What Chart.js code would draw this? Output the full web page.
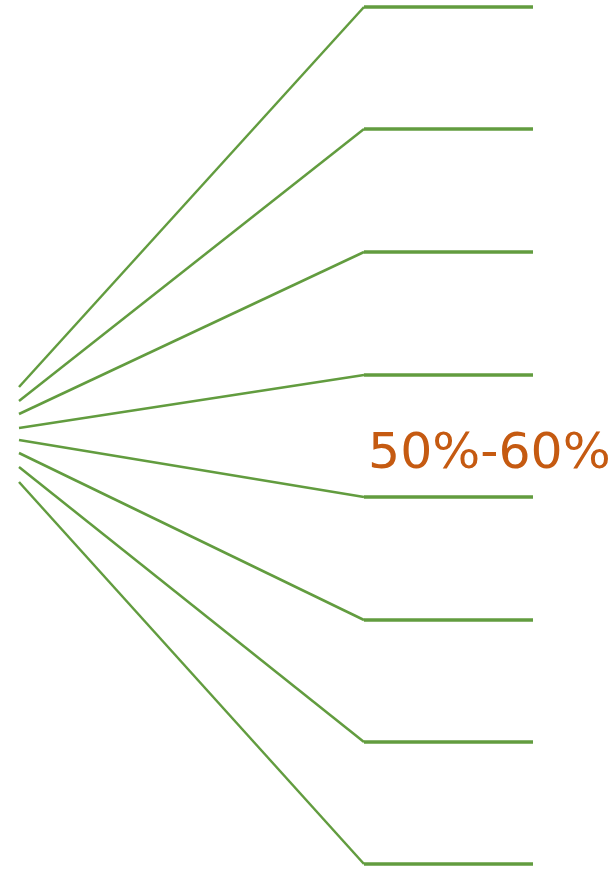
<!DOCTYPE html>
<html>
<head>
<meta charset="utf-8">
<script src="https://cdn.jsdelivr.net/npm/chart.js@4/dist/chart.umd.min.js"></script>
<style>
  html, body { margin: 0; padding: 0; background: #fff; }
  #wrap { width: 610px; height: 869px; }
</style>
</head>
<body>
<div id="wrap"><canvas id="fan"></canvas></div>
<script>
// fan origin (left ends) and branch levels (right ends), in chart units
var startX = 19;
var elbowX = 364;
var endX = 533;
var leftY = [387, 401, 414, 428, 440, 453, 467, 482];
var rightY = [7, 129, 252, 375, 497, 620, 742, 864];
var labelText = '50%-60%';
var labelPos = [368, 468];

var green = '#629c3f';
var datasets = [];
for (var i = 0; i < leftY.length; i++) {
    datasets.push({
        data: [{x: startX, y: leftY[i]}, {x: elbowX, y: rightY[i]}],
        borderColor: green,
        borderWidth: 2.5,
        showLine: true,
        pointRadius: 0
    });
    datasets.push({
        data: [{x: elbowX, y: rightY[i]}, {x: endX, y: rightY[i]}],
        borderColor: green,
        borderWidth: 3.5,
        borderCapStyle: 'butt',
        showLine: true,
        pointRadius: 0
    });
}

var labelPlugin = {
    id: 'fanLabel',
    afterDatasetsDraw: function (chart) {
        var c = chart.ctx;
        var px = chart.scales.x.getPixelForValue(labelPos[0]);
        var py = chart.scales.y.getPixelForValue(labelPos[1]);
        c.save();
        c.fillStyle = '#c55a11';
        c.font = '50.5px "DejaVu Sans"';
        c.textAlign = 'left';
        c.textBaseline = 'alphabetic';
        c.fillText(labelText, px, py);
        c.restore();
    }
};

try {
    var ctx = document.getElementById('fan');
    var myChart = new Chart(ctx, {
        type: 'scatter',
        data: { datasets: datasets },
        options: {
            responsive: true,
            maintainAspectRatio: false,
            animation: false,
            layout: { padding: 0 },
            plugins: {
                legend: { display: false },
                tooltip: { enabled: false }
            },
            scales: {
                x: { type: 'linear', min: 0, max: 610, display: false },
                y: { type: 'linear', min: 0, max: 869, reverse: true, display: false }
            }
        },
        plugins: [labelPlugin]
    });
} catch (error) {
    console.log(error);
}
</script>
</body>
</html>
